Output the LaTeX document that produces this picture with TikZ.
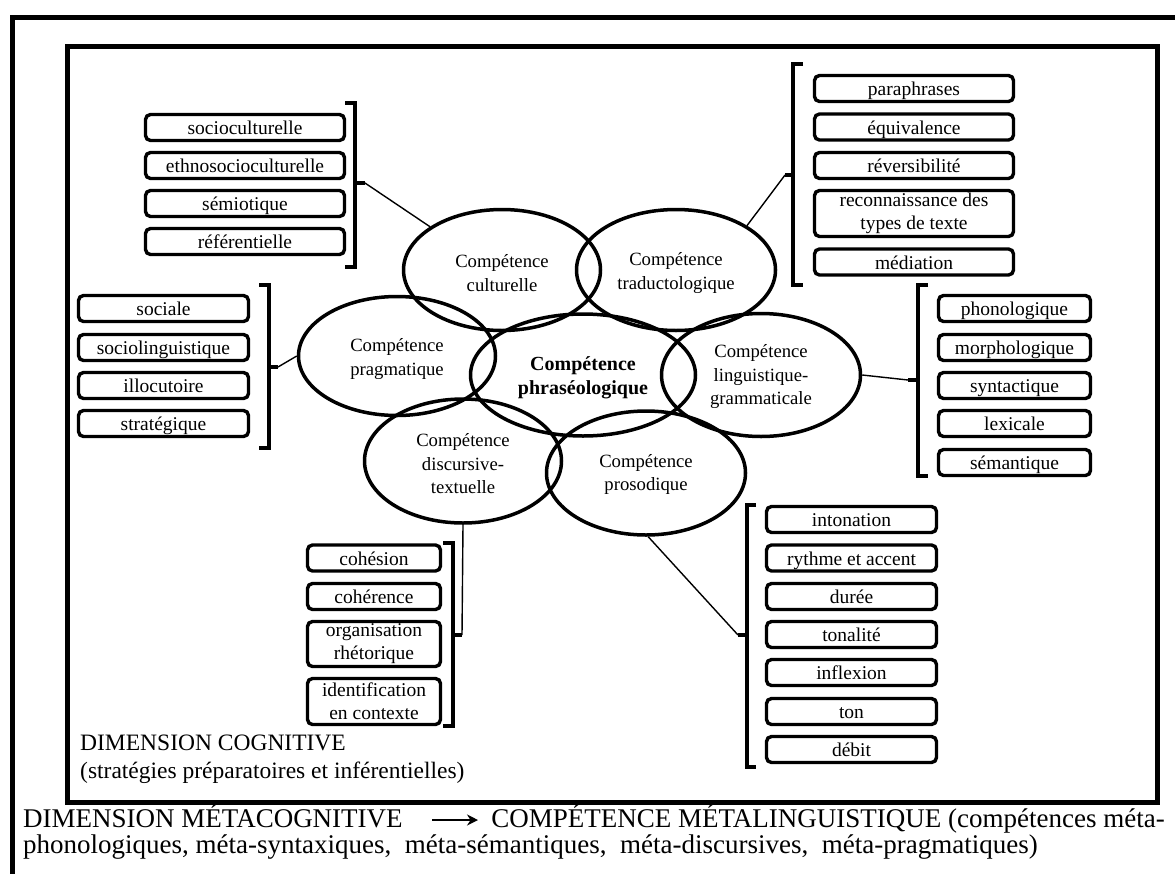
\documentclass[tikz,border=0pt]{standalone}
\usepackage{fontspec}
\setmainfont{Liberation Serif}
\usetikzlibrary{shapes.geometric,arrows.meta}
\tikzset{
  box/.style={draw, line width=3.4pt, rounded corners=5pt, inner sep=0pt,
    text height=16pt, text depth=2pt, font=\fontsize{19.5}{23}\selectfont},
  boxtwo/.style={draw, line width=3.4pt, rounded corners=5pt, inner sep=0pt, align=center,
    text height=, text depth=, font=\fontsize{19.5}{23}\selectfont},
  ell/.style={draw, ellipse, line width=3.5pt, inner sep=0pt},
  etxt/.style={inner sep=0pt, align=center, font=\fontsize{18.7}{23.5}\selectfont, yshift=-3pt},
  brk/.style={line width=3.4pt},
  conn/.style={line width=1.4pt},
  frame/.style={line width=5pt},
  txt/.style={inner sep=0pt, anchor=base west},
}
\begin{document}
\begin{tikzpicture}[x=1pt,y=-1pt]
\useasboundingbox (0,0) rectangle (1175,873);
\clip (0,0) rectangle (1175,873);
\fill[white] (0,0) rectangle (1175,873);
% frames
\draw[frame] (12,17) rectangle (1190,900);
\draw[frame] (67,46) rectangle (1157,802);

% ellipses
\node[ell, minimum width=197pt, minimum height=121pt] (cult) at (502,270) {};
\node[ell, minimum width=199pt, minimum height=121pt] (trad) at (676,270) {};
\node[ell, minimum width=197pt, minimum height=119pt] (prag) at (397,356) {};
\node[ell, minimum width=225pt, minimum height=122pt] (phra) at (583,375) {};
\node[ell, minimum width=199pt, minimum height=123pt] (ling) at (761,375) {};
\node[ell, minimum width=197pt, minimum height=124pt] (disc) at (463,461) {};
\node[ell, minimum width=199pt, minimum height=124pt] (pros) at (646,473) {};
\node[etxt] (cultT) at (cult) {Compétence\\culturelle};
\node[etxt] (tradT) at (trad) {Compétence\\traductologique};
\node[etxt] (pragT) at (prag) {Compétence\\pragmatique};
\node[etxt, font=\fontsize{20}{23.5}\selectfont\bfseries] (phraT) at (phra) {Compétence\\phraséologique};
\node[etxt, yshift=1pt] (lingT) at (ling) {Compétence\\linguistique-\\grammaticale};
\node[etxt] (discT) at (disc) {Compétence\\discursive-\\textuelle};
\node[etxt, yshift=1.5pt] (prosT) at (pros) {Compétence\\prosodique};

% top-left group
\begin{scope}[every node/.append style={box, minimum width=199pt, minimum height=26pt}]
\node (tl1) at (245,127.5) {socioculturelle};
\node (tl2) at (245,165.5) {ethnosocioculturelle};
\node (tl3) at (245,203.5) {sémiotique};
\node (tl4) at (245,241.5) {référentielle};
\end{scope}
\draw[brk] (345,103) -- (355,103) -- (355,267) -- (345,267);
\draw[brk] (355,183) -- (365,183);
\coordinate (tlc) at (365,183);
\draw[conn] (tlc) -- (cult.149);

% top-right group
\begin{scope}[every node/.append style={box, minimum width=199pt, minimum height=26pt}]
\node (tr1) at (914,88.5) {paraphrases};
\node (tr2) at (914,127) {équivalence};
\node (tr3) at (914,165.5) {réversibilité};
\node[boxtwo, minimum height=46pt, yshift=0pt] (tr4) at (914,213.5) {reconnaissance des\\types de texte};
\node (tr5) at (914,262) {médiation};
\end{scope}
\draw[brk] (803,64) -- (793,64) -- (793,285) -- (803,285);
\draw[brk] (793,175) -- (785,175);
\coordinate (trc) at (785,175);
\draw[conn] (trc) -- (trad.32);

% left group
\begin{scope}[every node/.append style={box, minimum width=170pt, minimum height=26pt}]
\node (l1) at (163.5,308.5) {sociale};
\node (l2) at (163.5,347.5) {sociolinguistique};
\node (l3) at (163.5,385.5) {illocutoire};
\node (l4) at (163.5,423.5) {stratégique};
\end{scope}
\draw[brk] (259,285) -- (269,285) -- (269,448) -- (259,448);
\draw[brk] (269,367) -- (278,367);
\coordinate (lc) at (278,367);
\draw[conn] (lc) -- (prag.west);

% right group
\begin{scope}[every node/.append style={box, minimum width=152pt, minimum height=26pt}]
\node (r1) at (1014.5,308.5) {phonologique};
\node (r2) at (1014.5,347.5) {morphologique};
\node (r3) at (1014.5,385.5) {syntactique};
\node (r4) at (1014.5,423.5) {lexicale};
\node (r5) at (1014.5,462.5) {sémantique};
\end{scope}
\draw[brk] (928,285) -- (918,285) -- (918,476) -- (928,476);
\draw[brk] (918,380) -- (908,380);
\coordinate (rc) at (908,380);
\draw[conn] (ling.east) -- (rc);

% bottom-left group
\begin{scope}[every node/.append style={box, minimum width=133pt, minimum height=26pt}]
\node (bl1) at (374,558) {cohésion};
\node (bl2) at (374,596.5) {cohérence};
\node[boxtwo, minimum height=45pt] (bl3) at (374,644) {organisation\\rhétorique};
\node[boxtwo, minimum height=46pt] (bl4) at (374,701.5) {identification\\en contexte};
\end{scope}
\draw[brk] (443,543) -- (453,543) -- (453,726) -- (443,726);
\draw[brk] (453,635) -- (462,635);
\coordinate (blc) at (462,635);
\draw[conn] (disc.south) -- (blc);

% bottom-right group
\begin{scope}[every node/.append style={box, minimum width=170pt, minimum height=26pt}]
\node (br1) at (851.5,519.5) {intonation};
\node (br2) at (851.5,558) {rythme et accent};
\node (br3) at (851.5,596.5) {durée};
\node (br4) at (851.5,634.5) {tonalité};
\node (br5) at (851.5,672.5) {inflexion};
\node (br6) at (851.5,711.5) {ton};
\node (br7) at (851.5,749.5) {débit};
\end{scope}
\draw[brk] (756,505) -- (747,505) -- (747,767) -- (756,767);
\draw[brk] (747,635) -- (738,635);
\coordinate (brc) at (738,635);
\draw[conn] (pros.-88) -- (brc);

% cognitive dimension label
\node[txt, font=\fontsize{23.5}{26}\selectfont] (cog1) at (80,750) {DIMENSION COGNITIVE};
\node[txt, font=\fontsize{23.5}{26}\selectfont] (cog2) at (80,778) {(stratégies préparatoires et inférentielles)};

% metacognitive line
\node[txt, font=\fontsize{27}{30}\selectfont] (meta) at (23,827) {DIMENSION MÉTACOGNITIVE};
\node[txt, anchor=base east, font=\fontsize{27}{30}\selectfont] (metal) at (1165,827) {COMPÉTENCE MÉTALINGUISTIQUE (compétences méta-};
\node[txt, font=\fontsize{27}{30}\selectfont] (meta2) at (23,853) {phonologiques, méta-syntaxiques,\ \ méta-sémantiques,\ \ méta-discursives,\ \ méta-pragmatiques)};
\coordinate (a1) at (432,820);
\coordinate (a2) at (478,820);
\draw[line width=2.8pt, -{Stealth[length=11pt,width=11pt]}] (a1) -- (a2);
\end{tikzpicture}
\end{document}
